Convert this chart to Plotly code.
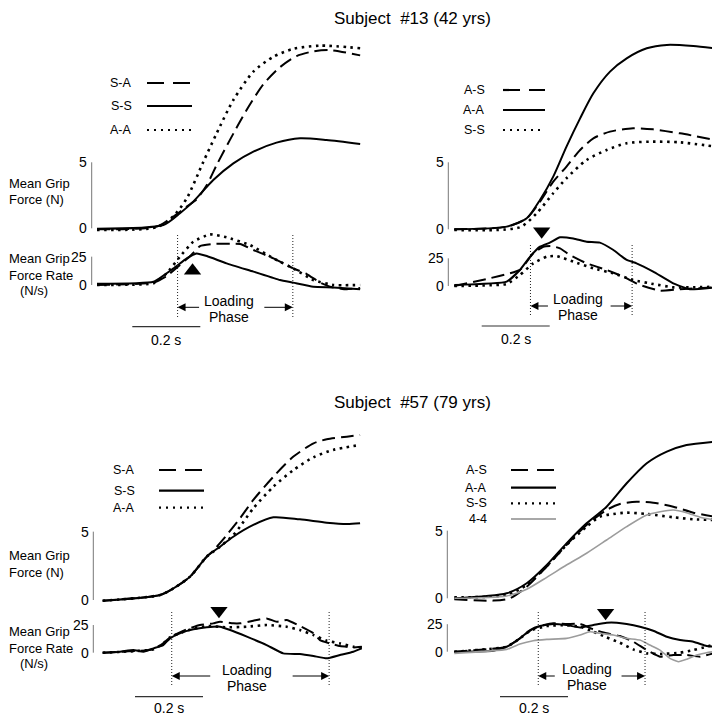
import plotly.graph_objects as go

# Page has an 8px body margin; the figure is sized so that it fills the window from there.
OFF = 8
W, H = 720 - OFF, 716 - OFF

# ---------------- DATA (time in s, force in N, force rate in N/s) ----------------
# Panel A: Subject #13, left (S-A, S-S, A-A)
A_SA_Ft = [0, 0.175, 0.225, 0.264, 0.293, 0.323, 0.352, 0.391, 0.44, 0.489, 0.538, 0.587, 0.636, 0.685, 0.774]
A_SA_F = [-0.08, 0.13, 0.88, 1.64, 2.2, 3.28, 4.8, 6.7, 8.96, 10.9, 12.2, 13.05, 13.4, 13.5, 13.1]
A_SS_Ft = [0, 0.195, 0.244, 0.283, 0.342, 0.401, 0.46, 0.528, 0.597, 0.675, 0.774]
A_SS_F = [-0.03, 0.25, 1.14, 2.02, 3.66, 4.92, 5.81, 6.49, 6.82, 6.69, 6.39]
A_AA_Ft = [0, 0.175, 0.225, 0.264, 0.313, 0.352, 0.401, 0.46, 0.519, 0.577, 0.656, 0.774]
A_AA_F = [-0.13, 0.08, 0.93, 2.27, 5.05, 7.2, 9.72, 11.87, 13.0, 13.59, 13.84, 13.64]
A_SA_Rt = [0, 0.166, 0.205, 0.244, 0.274, 0.303, 0.342, 0.421, 0.46, 0.519, 0.577, 0.617, 0.656, 0.685, 0.734, 0.774]
A_SA_R = [0, 2.1, 7.9, 17.6, 25.6, 34.4, 36.2, 36.2, 30.9, 23.5, 14.7, 9.7, 2.1, -1.5, -3.8, -2.6]
A_SS_Rt = [0, 0.166, 0.225, 0.264, 0.293, 0.323, 0.381, 0.46, 0.538, 0.577, 0.636, 0.695, 0.774]
A_SS_R = [1.0, 2.9, 14.7, 23.5, 27.9, 25.6, 19.1, 11.8, 4.4, 2.1, -1.5, -2.1, -3.8]
A_AA_Rt = [0, 0.166, 0.205, 0.244, 0.283, 0.332, 0.381, 0.45, 0.519, 0.577, 0.636, 0.695, 0.774]
A_AA_R = [0, 1.5, 10.3, 25, 38.2, 44.7, 42.1, 35.3, 23.5, 14.7, 4.4, 0, 0]

# Panel B: Subject #13, right (A-S, A-A, S-S)
B_AS_Ft = [0, 0.154, 0.213, 0.252, 0.291, 0.33, 0.37, 0.409, 0.458, 0.526, 0.585, 0.664, 0.767]
B_AS_F = [0, 0.2, 0.82, 2.06, 3.56, 4.68, 5.92, 6.79, 7.29, 7.54, 7.46, 7.16, 6.67]
B_AA_Ft = [0, 0.154, 0.213, 0.252, 0.291, 0.33, 0.37, 0.409, 0.458, 0.507, 0.566, 0.625, 0.703, 0.767]
B_AA_F = [0, 0.2, 0.82, 2.19, 3.93, 6.17, 8.28, 10.15, 11.77, 12.76, 13.51, 13.76, 13.68, 13.51]
B_SS_Ft = [0, 0.193, 0.242, 0.291, 0.33, 0.389, 0.448, 0.507, 0.575, 0.664, 0.767]
B_SS_F = [-0.05, 0.15, 1.19, 2.69, 3.81, 5.17, 5.92, 6.42, 6.54, 6.49, 6.17]
B_AS_Rt = [0, 0.193, 0.232, 0.262, 0.286, 0.311, 0.34, 0.389, 0.448, 0.497, 0.546, 0.605, 0.664, 0.767]
B_AS_R = [0, 14.5, 29.5, 35.5, 36.1, 34, 28, 20.5, 14.5, 8.4, 0.9, -4.2, -3, -1.2]
B_AA_Rt = [0, 0.154, 0.193, 0.223, 0.252, 0.281, 0.311, 0.35, 0.389, 0.428, 0.468, 0.507, 0.536, 0.585, 0.644, 0.693, 0.767]
B_AA_R = [0.9, 3.9, 14.5, 26.5, 35.5, 39.2, 44, 43, 40, 39.2, 32.5, 23.5, 20.5, 13, 2.4, -3, -1.2]
B_SS_Rt = [0, 0.154, 0.193, 0.232, 0.272, 0.301, 0.35, 0.409, 0.468, 0.526, 0.585, 0.644, 0.703, 0.767]
B_SS_R = [0, 1.8, 9.9, 20.5, 26.5, 27.1, 22, 16, 11.4, 5.4, 1.8, -1.2, -1.2, -0.6]

# Panel C: Subject #57, left (S-A, S-S, A-A)
C_SA_Ft = [0, 0.169, 0.208, 0.257, 0.306, 0.325, 0.365, 0.404, 0.443, 0.502, 0.561, 0.62, 0.659, 0.718, 0.757]
C_SA_F = [-0.05, 0.37, 0.85, 1.71, 3.17, 3.61, 4.76, 5.98, 7.32, 9.02, 10.49, 11.46, 11.76, 11.95, 12.07]
C_SS_Ft = [0, 0.169, 0.208, 0.257, 0.306, 0.345, 0.384, 0.443, 0.502, 0.58, 0.659, 0.718, 0.757]
C_SS_F = [-0.05, 0.37, 0.85, 1.71, 3.17, 3.9, 4.63, 5.49, 6.05, 5.9, 5.66, 5.56, 5.61]
C_AA_Ft = [0, 0.169, 0.208, 0.257, 0.306, 0.345, 0.384, 0.404, 0.443, 0.502, 0.561, 0.62, 0.678, 0.757]
C_AA_F = [-0.05, 0.37, 0.85, 1.71, 3.17, 3.9, 4.75, 5.37, 6.71, 8.29, 9.51, 10.44, 10.98, 11.34]
C_SA_Rt = [0, 0.149, 0.178, 0.198, 0.247, 0.286, 0.325, 0.345, 0.384, 0.404, 0.443, 0.482, 0.512, 0.541, 0.58, 0.62, 0.639, 0.668, 0.698, 0.737, 0.762]
C_SA_R = [0, 3, 8.4, 13.9, 21.1, 25, 26.5, 28, 26.5, 26.5, 28.9, 31, 28, 29.5, 24.1, 17.5, 11.4, 8.4, 6, 4.8, 5.4]
C_SS_Rt = [0, 0.051, 0.09, 0.12, 0.149, 0.178, 0.198, 0.227, 0.267, 0.306, 0.345, 0.375, 0.424, 0.482, 0.531, 0.58, 0.62, 0.659, 0.698, 0.737, 0.762]
C_SS_R = [0, 0.9, 2.4, 0.9, 3.9, 6.9, 12.95, 17.5, 21.1, 22.9, 23.5, 20.5, 14.5, 6.9, -0.6, -1.2, -3, -5.1, -2.1, 0.9, 3.9]
C_AA_Rt = [0, 0.149, 0.178, 0.198, 0.247, 0.306, 0.365, 0.424, 0.482, 0.541, 0.58, 0.62, 0.659, 0.698, 0.737, 0.762]
C_AA_R = [0, 3, 8.4, 13.9, 19.9, 24.1, 22.9, 23.5, 25, 23.5, 20.5, 16, 10.8, 8.4, 5.4, 4.8]

# Panel D: Subject #57, right (A-S, A-A, S-S, 4-4)
D_AS_Ft = [0, 0.115, 0.164, 0.213, 0.272, 0.33, 0.389, 0.448, 0.487, 0.536, 0.585, 0.644, 0.703, 0.767]
D_AS_F = [-0.07, -0.17, 0, 0.86, 2.34, 3.94, 5.42, 6.53, 6.97, 7.14, 7.07, 6.77, 6.33, 6.03]
D_AA_Ft = [0, 0.154, 0.213, 0.272, 0.33, 0.389, 0.448, 0.507, 0.566, 0.625, 0.683, 0.767]
D_AA_F = [0, 0.37, 1.11, 2.46, 4.06, 5.54, 6.77, 8.5, 9.98, 10.84, 11.33, 11.58]
D_SS_Ft = [0, 0.154, 0.213, 0.272, 0.33, 0.389, 0.428, 0.468, 0.507, 0.566, 0.644, 0.703, 0.767]
D_SS_F = [0.07, 0.25, 0.99, 2.39, 3.94, 5.3, 6.03, 6.23, 6.33, 6.23, 5.99, 5.84, 5.79]
D_44_Ft = [0, 0.154, 0.213, 0.272, 0.33, 0.389, 0.448, 0.507, 0.566, 0.605, 0.644, 0.683, 0.723, 0.767]
D_44_F = [0, 0.17, 0.67, 1.55, 2.46, 3.33, 4.31, 5.3, 6.16, 6.4, 6.53, 6.33, 5.99, 5.79]
D_AS_Rt = [0, 0.154, 0.193, 0.223, 0.252, 0.291, 0.33, 0.37, 0.409, 0.448, 0.487, 0.526, 0.566, 0.605, 0.644, 0.683, 0.723, 0.762]
D_AS_R = [0, 4.5, 12.1, 19.1, 23.3, 25.8, 25.2, 25.2, 20.3, 16.7, 14.2, 9.1, 1.5, -4.5, -3, -3, -4.5, -1.5]
D_AA_Rt = [0, 0.115, 0.154, 0.193, 0.223, 0.252, 0.291, 0.33, 0.37, 0.409, 0.448, 0.478, 0.507, 0.546, 0.585, 0.625, 0.664, 0.703, 0.742, 0.762]
D_AA_R = [0, 0.9, 4.5, 12.1, 19.7, 23.3, 25.2, 24.2, 22.1, 24.2, 26.4, 26.4, 25.2, 22.7, 19.1, 13.6, 10.6, 9.1, 5.2, 4.5]
D_SS_Rt = [0, 0.154, 0.193, 0.223, 0.272, 0.33, 0.37, 0.409, 0.448, 0.487, 0.526, 0.566, 0.605, 0.664, 0.703, 0.742, 0.776]
D_SS_R = [0, 4.5, 12.1, 19.1, 23.3, 24.2, 22.7, 18.2, 13, 8.2, 2.1, -1.5, -2.1, -0.9, 1.5, 4.5, 7.6]
D_44_Rt = [0, 0.154, 0.193, 0.232, 0.272, 0.33, 0.37, 0.399, 0.428, 0.468, 0.507, 0.546, 0.575, 0.605, 0.634, 0.659, 0.683, 0.713, 0.742, 0.762]
D_44_R = [-1.5, 2.1, 7, 10, 11.2, 12.1, 15.2, 18.2, 16.7, 15.2, 12.1, 10.6, 6.1, 1.5, -6.1, -9.1, -6.9, -3, -0.9, 0]

# Loading phase (onset, offset) and peak-rate marker (time, rate)
LOAD_A = [0.237, 0.576]; PEAK_A = [0.281, 12.6]
LOAD_B = [0.224, 0.523]; PEAK_B = [0.257, 49.5]
LOAD_C = [0.203, 0.666]; PEAK_C = [0.342, 37.9]
LOAD_D = [0.247, 0.561]; PEAK_D = [0.445, 35.5]

TITLES = ["Subject \u00a0#13 (42 yrs)", "Subject \u00a0#57 (79 yrs)"]
FORCE_TICKS = [0, 5]
RATE_TICKS = [0, 25]
SCALE_BAR_S = 0.2

# ---------------- STYLES ----------------
FONT = "Liberation Sans, Arial, sans-serif"
STY = {
    "dash": dict(color="black", width=2, dash="13px,6px"),
    "solid": dict(color="black", width=2),
    "dot": dict(color="black", width=2.6, dash="2.5px,4.5px"),
    "gray": dict(color="#9c9c9c", width=1.6),
}
LEG_STY = {
    "dash": dict(color="black", width=2.2, dash="17px,9px"),
    "solid": dict(color="black", width=2.2),
    "dot": dict(color="black", width=2.2, dash="2px,5px"),
    "gray": dict(color="#a8a8a8", width=2.2),
}
SX = 340.0  # px per second

PANELS = [
    dict(t0=97.0, F0=228.3, sF=13.2, R0=285.0, sR=1.133, bar=91.7, ftop=25, sb_px=132.3,
         load=LOAD_A, peak=PEAK_A, sym="triangle-up",
         series=[("S-A", "dash", A_SA_Ft, A_SA_F, A_SA_Rt, A_SA_R),
                 ("S-S", "solid", A_SS_Ft, A_SS_F, A_SS_Rt, A_SS_R),
                 ("A-A", "dot", A_AA_Ft, A_AA_F, A_AA_Rt, A_AA_R)],
         leg_y=[83, 106, 130], leg_tx=134, leg_l=[147, 192],
         load_y=[235, 317], arr_y=307.3, txt_c=229, txt_y=[301, 317.3], arr_len=[23, 30],
         sb=[326.7, 339.5], labels=True, lab_y=[183.3, 200, 258.3, 275, 290.5]),
    dict(t0=454.3, F0=229.3, sF=13.4, R0=286.0, sR=1.107, bar=448.3, ftop=25, sb_px=481.7,
         load=LOAD_B, peak=PEAK_B, sym="triangle-down",
         series=[("A-S", "dash", B_AS_Ft, B_AS_F, B_AS_Rt, B_AS_R),
                 ("A-A", "solid", B_AA_Ft, B_AA_F, B_AA_Rt, B_AA_R),
                 ("S-S", "dot", B_SS_Ft, B_SS_F, B_SS_Rt, B_SS_R)],
         leg_y=[90, 110, 130], leg_tx=487, leg_l=[503, 545],
         load_y=[243, 315], arr_y=306, txt_c=577.5, txt_y=[299.3, 315], arr_len=[19, 23],
         sb=[326, 338.5], labels=False),
    dict(t0=102.7, F0=600.0, sF=13.67, R0=652.7, sR=1.107, bar=93.3, ftop=410, sb_px=135.0,
         load=LOAD_C, peak=PEAK_C, sym="triangle-down",
         series=[("S-A", "dash", C_SA_Ft, C_SA_F, C_SA_Rt, C_SA_R),
                 ("S-S", "solid", C_SS_Ft, C_SS_F, C_SS_Rt, C_SS_R),
                 ("A-A", "dot", C_AA_Ft, C_AA_F, C_AA_Rt, C_AA_R)],
         leg_y=[470, 490.7, 507.7], leg_tx=137, leg_l=[159, 204],
         load_y=[611.7, 685], arr_y=676, txt_c=247.5, txt_y=[670, 686], arr_len=[40, 38],
         sb=[696.7, 707.5], labels=True, lab_y=[555, 572.7, 631.7, 648.3, 663.5]),
    dict(t0=454.3, F0=598.3, sF=13.53, R0=651.7, sR=1.1, bar=447.3, ftop=410, sb_px=500.0,
         load=LOAD_D, peak=PEAK_D, sym="triangle-down",
         series=[("A-S", "dash", D_AS_Ft, D_AS_F, D_AS_Rt, D_AS_R),
                 ("A-A", "solid", D_AA_Ft, D_AA_F, D_AA_Rt, D_AA_R),
                 ("S-S", "dot", D_SS_Ft, D_SS_F, D_SS_Rt, D_SS_R),
                 ("4-4", "gray", D_44_Ft, D_44_F, D_44_Rt, D_44_R)],
         leg_y=[470, 487.7, 503.3, 519], leg_tx=489, leg_l=[511, 556],
         load_y=[611.7, 685], arr_y=676, txt_c=586.7, txt_y=[668.5, 685], arr_len=[18, 25],
         sb=[696.7, 707.5], labels=False),
]


def px2x(px):
    return (px - OFF) / W


def py2y(py):
    return 1 - (py - OFF) / H


fig = go.Figure()
layout = dict(width=W, height=H, margin=dict(l=0, r=0, t=0, b=0),
              paper_bgcolor="white", plot_bgcolor="rgba(0,0,0,0)",
              showlegend=False, hovermode=False, font=dict(family=FONT, color="black"))
shapes, annos = [], []


def axkey(kind, n):
    return kind + "axis" + ("" if n == 1 else str(n))


def axref(kind, n):
    return kind + ("" if n == 1 else str(n))


for i, p in enumerate(PANELS):
    nF, nR = 2 * i + 1, 2 * i + 2
    xl = max(OFF, p["t0"] - 8)
    xr = min(OFF + W, p["t0"] + 268)
    xdom = [px2x(xl), px2x(xr)]
    xrng = [(xl - p["t0"]) / SX, (xr - p["t0"]) / SX]
    ft, fb = p["ftop"], p["F0"] + 6
    rt, rb = p["R0"] - 72, p["R0"] + 16
    for n, (top, bot, org, s) in ((nF, (ft, fb, p["F0"], p["sF"])), (nR, (rt, rb, p["R0"], p["sR"]))):
        layout[axkey("x", n)] = dict(domain=xdom, range=xrng, visible=False, anchor=axref("y", n))
        layout[axkey("y", n)] = dict(domain=[py2y(bot), py2y(top)],
                                     range=[(org - bot) / s, (org - top) / s],
                                     visible=False, anchor=axref("x", n))

    for name, sty, ft_, fv, rt_, rv in p["series"]:
        fig.add_trace(go.Scatter(x=ft_, y=fv, mode="lines", line=dict(**STY[sty], shape="spline", smoothing=0.7),
                                 xaxis=axref("x", nF), yaxis=axref("y", nF), name=name))
        fig.add_trace(go.Scatter(x=rt_, y=rv, mode="lines", line=dict(**STY[sty], shape="spline", smoothing=0.4),
                                 xaxis=axref("x", nR), yaxis=axref("y", nR), name=name))

    # peak-rate triangle
    fig.add_trace(go.Scatter(x=[p["peak"][0]], y=[p["peak"][1]], mode="markers", cliponaxis=False,
                             marker=dict(symbol=p["sym"], size=15, color="black"),
                             xaxis=axref("x", nR), yaxis=axref("y", nR)))

    # vertical scale bars with tick labels
    for n, ticks in ((nF, FORCE_TICKS), (nR, RATE_TICKS)):
        shapes.append(dict(type="line", xref="paper", yref=axref("y", n), x0=px2x(p["bar"]), x1=px2x(p["bar"]),
                           y0=ticks[0], y1=ticks[1], line=dict(color="#777", width=1)))
        for tv in ticks:
            annos.append(dict(xref="paper", yref=axref("y", n), x=px2x(p["bar"] - 2.5), y=tv, text=str(tv),
                              showarrow=False, xanchor="right", yanchor="middle", font=dict(size=14)))

    # loading phase markers
    for tv in p["load"]:
        shapes.append(dict(type="line", xref=axref("x", nR), yref="paper", x0=tv, x1=tv,
                           y0=py2y(p["load_y"][1]), y1=py2y(p["load_y"][0]),
                           line=dict(color="#222", width=1, dash="1px,2px")))
    annos.append(dict(xref=axref("x", nR), yref="paper", x=p["load"][0], y=py2y(p["arr_y"]), ax=p["arr_len"][0], ay=0,
                      text="", showarrow=True, arrowhead=2, arrowsize=1.6, arrowwidth=1, arrowcolor="black"))
    annos.append(dict(xref=axref("x", nR), yref="paper", x=p["load"][1], y=py2y(p["arr_y"]), ax=-p["arr_len"][1], ay=0,
                      text="", showarrow=True, arrowhead=2, arrowsize=1.6, arrowwidth=1, arrowcolor="black"))
    for txt, ty in zip(["Loading", "Phase"], p["txt_y"]):
        annos.append(dict(xref="paper", yref="paper", x=px2x(p["txt_c"]), y=py2y(ty), text=txt, showarrow=False,
                          xanchor="center", yanchor="middle", font=dict(size=14)))

    # time scale bar
    sb_t0 = (p["sb_px"] - p["t0"]) / SX
    shapes.append(dict(type="line", xref=axref("x", nR), yref="paper", x0=sb_t0, x1=sb_t0 + SCALE_BAR_S,
                       y0=py2y(p["sb"][0]), y1=py2y(p["sb"][0]), line=dict(color="#333", width=1.2)))
    annos.append(dict(xref=axref("x", nR), yref="paper", x=sb_t0 + SCALE_BAR_S / 2, y=py2y(p["sb"][1]),
                      text="0.2 s", showarrow=False, xanchor="center", yanchor="middle", font=dict(size=14)))

    # legend (text + line sample)
    for (name, sty, *_), ly in zip(p["series"], p["leg_y"]):
        annos.append(dict(xref="paper", yref="paper", x=px2x(p["leg_tx"]), y=py2y(ly), text=name, showarrow=False,
                          xanchor="right", yanchor="middle", font=dict(size=12.5)))
        shapes.append(dict(type="line", xref="paper", yref="paper", x0=px2x(p["leg_l"][0]), x1=px2x(p["leg_l"][1]),
                           y0=py2y(ly), y1=py2y(ly), line=LEG_STY[sty]))

    # y-axis labels
    if p["labels"]:
        ly = p["lab_y"]
        for txt, y, x in (("Mean Grip", ly[0], OFF), ("Force (N)", ly[1], OFF), ("Mean Grip", ly[2], OFF),
                          ("Force Rate", ly[3], OFF), ("(N/s)", ly[4], 19)):
            annos.append(dict(xref="paper", yref="paper", x=px2x(x), y=py2y(y), text=txt, showarrow=False,
                              xanchor="left", yanchor="middle", xshift=-1, font=dict(size=13)))

for title, ty in zip(TITLES, [None, 402]):
    if ty is None:
        annos.append(dict(xref="paper", yref="paper", x=px2x(412), y=1, text=title, showarrow=False,
                          xanchor="center", yanchor="top", borderpad=0, font=dict(size=17)))
    else:
        annos.append(dict(xref="paper", yref="paper", x=px2x(412), y=py2y(ty), text=title, showarrow=False,
                          xanchor="center", yanchor="middle", font=dict(size=17)))

layout["shapes"] = shapes
layout["annotations"] = annos
fig.update_layout(**layout)
fig.write_html("out.html")
